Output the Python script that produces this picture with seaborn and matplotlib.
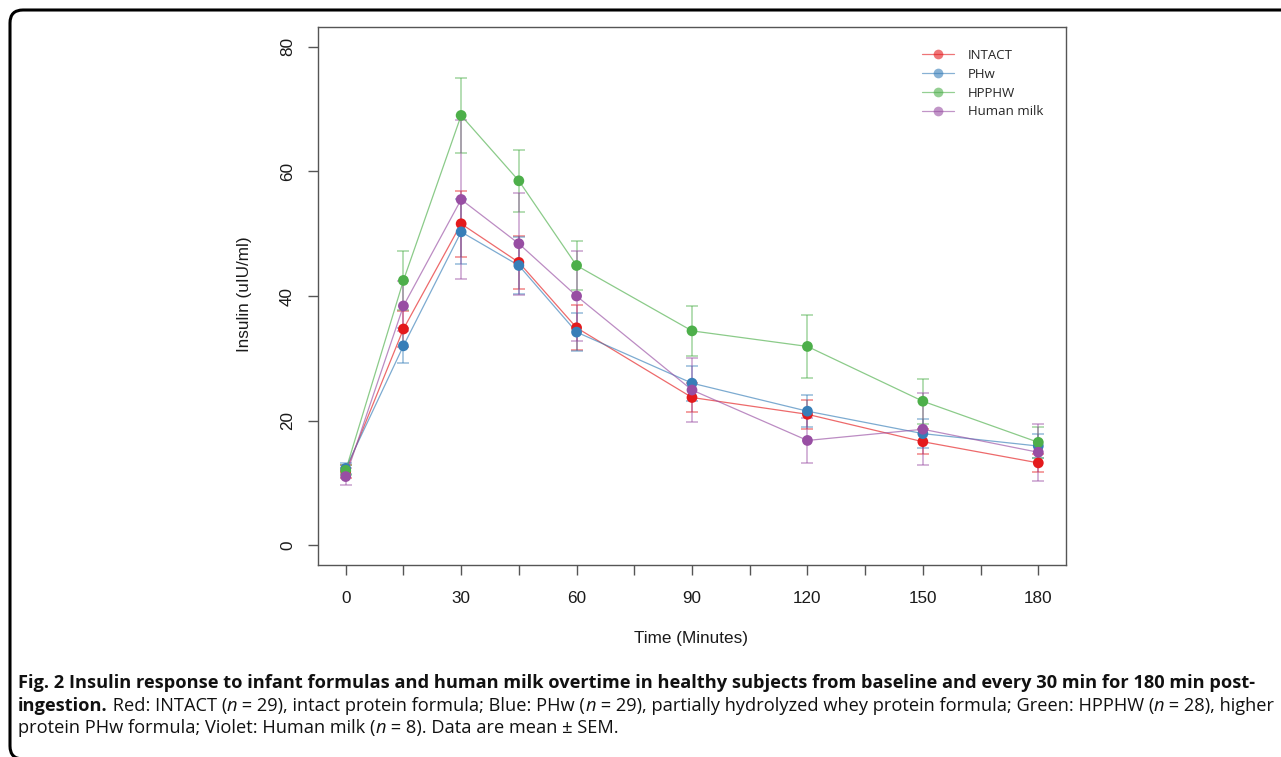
import numpy as np
import pandas as pd
import matplotlib
matplotlib.use("Agg")
import matplotlib.pyplot as plt
import matplotlib.transforms as mtransforms
from matplotlib.patches import FancyBboxPatch
from matplotlib.lines import Line2D
import seaborn as sns

# values (mean +/- SEM)
time_min = [0, 15, 30, 45, 60, 90, 120, 150, 180]
groups = ['INTACT', 'PHw', 'HPPHW', 'Human milk']
intact = [11.8, 34.7, 51.6, 45.4, 34.9, 23.7, 21.0, 16.6, 13.2]
intact_sem = [1.0, 2.9, 5.3, 4.3, 3.6, 2.4, 2.3, 2.0, 1.5]
phw = [12.3, 32.0, 50.3, 44.9, 34.2, 26.0, 21.5, 17.9, 15.9]
phw_sem = [0.9, 2.8, 5.2, 4.5, 3.1, 2.8, 2.6, 2.3, 1.9]
hpphw = [12.0, 42.5, 69.0, 58.5, 44.9, 34.4, 31.9, 23.1, 16.5]
hpphw_sem = [0.8, 4.8, 6.0, 5.0, 3.9, 4.0, 5.0, 3.6, 2.5]
milk = [11.0, 38.4, 55.5, 48.4, 40.0, 24.9, 16.8, 18.6, 14.9]
milk_sem = [1.3, 4.0, 12.7, 8.2, 7.2, 5.1, 3.6, 5.8, 4.6]
colors = ['#E41A1C', '#377EB8', '#4DAF4A', '#984EA3']

x_ticks = list(range(0, 181, 15))
x_ticklabels = [str(t) if t % 30 == 0 else '' for t in x_ticks]
y_ticks = [0, 20, 40, 60, 80]

# long table for seaborn
means = [intact, phw, hpphw, milk]
sems = [intact_sem, phw_sem, hpphw_sem, milk_sem]
rows = []
for g, m, s in zip(groups, means, sems):
    for t, v, e in zip(time_min, m, s):
        rows.append({'time': t, 'insulin': v, 'sem': e, 'group': g})
df = pd.DataFrame(rows)
palette = dict(zip(groups, colors))

sns.set_style("ticks")
plt.rcParams['font.family'] = ['Liberation Sans', 'DejaVu Sans']

fig = plt.figure(figsize=(12.81, 7.57), dpi=100)
ax = fig.add_axes([318 / 1281, 1 - 565 / 757, 748 / 1281, 538 / 757])

# error bars
for g in groups:
    d = df[df['group'] == g]
    ax.errorbar(d['time'], d['insulin'], yerr=d['sem'], fmt='none',
                ecolor=palette[g], elinewidth=1.3, capsize=4, capthick=1.3,
                alpha=0.45, zorder=1)

# connecting lines
sns.lineplot(data=df, x='time', y='insulin', hue='group', hue_order=groups,
             palette=palette, linewidth=0.9, alpha=0.65, legend=False,
             estimator=None, ax=ax, zorder=2)
# points
sns.scatterplot(data=df, x='time', y='insulin', hue='group', hue_order=groups,
                palette=palette, s=60, linewidth=0, legend=False, ax=ax, zorder=3)

ax.set_xlim(-7.2, 187.2)
ax.set_ylim(-3.2, 83.2)
ax.set_xticks(x_ticks)
ax.set_xticklabels(x_ticklabels)
ax.set_yticks(y_ticks)
ax.set_yticklabels([str(v) for v in y_ticks], rotation=90, va='center')
ax.tick_params(axis='both', direction='out', length=7.5, width=1,
               color='#555555', labelsize=12.3, labelcolor='#1a1a1a')
ax.tick_params(axis='x', pad=11)
ax.tick_params(axis='y', pad=9)
for sp in ax.spines.values():
    sp.set_visible(True)
    sp.set_color('#555555')
    sp.set_linewidth(1)

ax.set_xlabel('Time (Minutes)', fontsize=12.3, color='#1a1a1a')
ax.set_ylabel('Insulin (uIU/ml)', fontsize=12.3, color='#1a1a1a')
ax.xaxis.set_label_coords(0.498, -0.1375)
ax.xaxis.label.set_va('center')
ax.yaxis.set_label_coords(-0.0976, 0.503)
ax.yaxis.label.set_va('center')

handles = [Line2D([0], [0], color=c, lw=0.9, alpha=0.6, marker='o',
                  markersize=7, markerfacecolor=c, markeredgewidth=0)
           for c in colors]
leg = ax.legend(handles, groups, loc='upper left', bbox_to_anchor=(0.798, 0.972),
                frameon=False, borderpad=0, handlelength=2.5, handletextpad=1.0,
                labelspacing=0.45, prop={'family': 'Open Sans', 'size': 9.5})

# outer rounded frame
frame = FancyBboxPatch((0.10, -0.02), 13.2, 7.47 + 0.02,
                       boxstyle="round,pad=0,rounding_size=0.13",
                       transform=fig.dpi_scale_trans, fill=False,
                       edgecolor='black', linewidth=2.2, clip_on=False)
fig.patches.append(frame)

# caption with mixed styles
pix = mtransforms.IdentityTransform()
renderer = fig.canvas.get_renderer()
cap_font = ['Open Sans', 'DejaVu Sans']

line1 = [("Fig. 2 Insulin response to infant formulas and human milk overtime in healthy "
          "subjects from baseline and every 30 min for 180 min post-", 'bold', 'normal')]
line2 = [("ingestion.", 'bold', 'normal'),
         (" Red: INTACT (", 'normal', 'normal'), ("n", 'normal', 'italic'),
         (" = 29), intact protein formula; Blue: PHw (", 'normal', 'normal'),
         ("n", 'normal', 'italic'),
         (" = 29), partially hydrolyzed whey protein formula; Green: HPPHW (", 'normal', 'normal'),
         ("n", 'normal', 'italic'),
         (" = 28), higher", 'normal', 'normal')]
line3 = [("protein PHw formula; Violet: Human milk (", 'normal', 'normal'),
         ("n", 'normal', 'italic'),
         (" = 8). Data are mean \u00b1 SEM.", 'normal', 'normal')]


def draw_runs(x, y, runs, size):
    x0 = x
    made = []
    for txt, weight, style in runs:
        t = fig.text(x, y, txt, fontweight=weight, fontstyle=style,
                     family=cap_font, fontsize=size, color='#111111',
                     transform=pix, va='baseline', ha='left')
        made.append(t)
        x = t.get_window_extent(renderer).x1
    return made, x - x0


# find a size at which the two long lines fit the 1259 px text width
widths = []
for ln in (line1, line2):
    made, w = draw_runs(0, -100, ln, 12)
    for t in made:
        t.remove()
    widths.append(w)
cap_size = 12 * 1256 / max(widths)

draw_runs(18, 757 - 688, line1, cap_size)
draw_runs(18, 757 - 711, line2, cap_size)
draw_runs(18, 757 - 733, line3, cap_size)

fig.savefig('out.png', dpi=100)
